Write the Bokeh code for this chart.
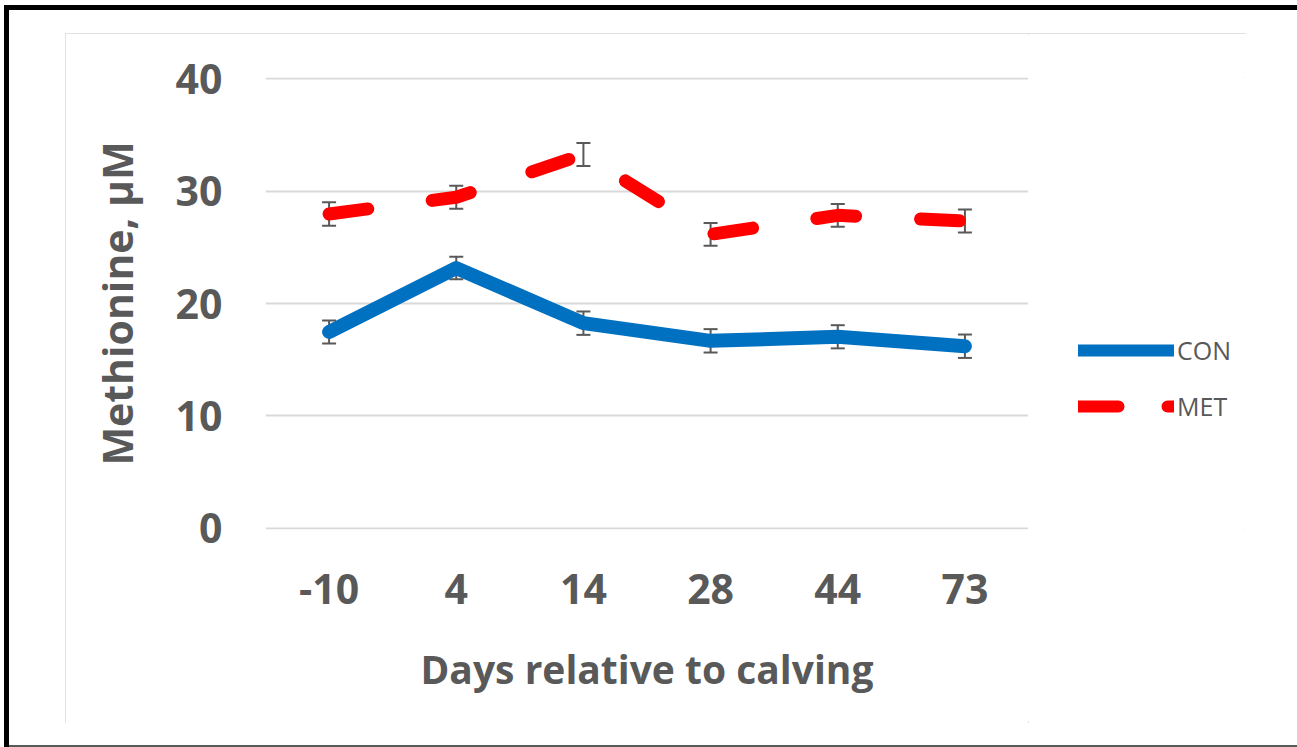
from bokeh.plotting import figure
from bokeh.models import (ColumnDataSource, Whisker, TeeHead, Legend, LegendItem,
                          FactorRange, Range1d, FixedTicker)
from bokeh.layouts import column, row
from bokeh.embed import file_html
from bokeh.resources import INLINE

# ---- data ----
days = ["-10", "4", "14", "28", "44", "73"]
con_mean = [17.47, 23.15, 18.25, 16.68, 17.04, 16.2]
con_sem = [1.02, 1.0, 1.04, 1.04, 1.03, 1.04]
met_mean = [27.96, 29.45, 33.25, 26.15, 27.84, 27.33]
met_sem = [1.05, 1.03, 1.02, 1.02, 1.02, 1.02]
y_ticks = [0, 10, 20, 30, 40]
series_names = ["CON", "MET"]

TEXT = "#595959"
FONT = "Open Sans"
BLUE = "#0070C0"
RED = "#FF0000"

src_con = ColumnDataSource(dict(
    x=days, y=con_mean,
    upper=[m + s for m, s in zip(con_mean, con_sem)],
    lower=[m - s for m, s in zip(con_mean, con_sem)]))
src_met = ColumnDataSource(dict(
    x=days, y=met_mean,
    upper=[m + s for m, s in zip(met_mean, met_sem)],
    lower=[m - s for m, s in zip(met_mean, met_sem)]))

# ---------------- main plot ----------------
p = figure(x_range=FactorRange(factors=days), y_range=Range1d(-0.1, 40.1),
           width=963, height=690, output_backend="svg", toolbar_location=None,
           min_border_left=200, min_border_right=0, min_border_top=44,
           min_border_bottom=194)
p.background_fill_color = "white"
p.border_fill_color = "white"
p.outline_line_color = None

for ax in (p.xaxis, p.yaxis):
    ax.axis_line_color = None
    ax.major_tick_line_color = None
    ax.minor_tick_line_color = None
    ax.major_tick_out = 0
    ax.major_tick_in = 0
    ax.major_label_text_font = FONT
    ax.major_label_text_font_size = "41px"
    ax.major_label_text_font_style = "bold"
    ax.major_label_text_color = TEXT
    ax.axis_label_text_font = FONT
    ax.axis_label_text_font_style = "bold"
    ax.axis_label_text_color = TEXT

p.xaxis.major_label_standoff = 44
p.xaxis.axis_label = "Days relative to calving"
p.xaxis.axis_label_text_font_size = "39px"
p.xaxis.axis_label_standoff = 35

p.yaxis.ticker = FixedTicker(ticks=y_ticks)
p.yaxis.major_label_standoff = 43
p.yaxis.axis_label = "Methionine, µM"
p.yaxis.axis_label_text_font_size = "41px"
p.yaxis.axis_label_standoff = 28

p.xgrid.grid_line_color = None
p.ygrid.grid_line_color = "#D9D9D9"
p.ygrid.grid_line_width = 2

# error bars (under the lines)
for src in (src_con, src_met):
    w = Whisker(source=src, base="x", upper="upper", lower="lower", level="underlay",
                line_color=TEXT, line_width=2,
                upper_head=TeeHead(size=14, line_color=TEXT, line_width=2),
                lower_head=TeeHead(size=14, line_color=TEXT, line_width=2))
    p.add_layout(w)

p.line("x", "y", source=src_con, line_color=BLUE, line_width=14,
       line_cap="round", line_join="round")
p.line("x", "y", source=src_met, line_color=RED, line_width=13,
       line_dash="39 65", line_cap="round", line_join="round")

# ---------------- legend panel ----------------
q = figure(x_range=Range1d(0, 1), y_range=Range1d(0, 1), width=218, height=690,
           output_backend="svg", toolbar_location=None, min_border=0)
q.axis.visible = False
q.grid.visible = False
q.outline_line_color = None
q.background_fill_color = "white"
q.border_fill_color = "white"
# legend keys only (a single point off-range draws nothing in the frame)
k_con = q.line(x=[0.5], y=[-5], line_color=BLUE, line_width=12, line_cap="round")
k_met = q.line(x=[0.5], y=[-5], line_color=RED, line_width=12,
               line_dash="40 49", line_cap="round")

legend = Legend(items=[LegendItem(label=series_names[0], renderers=[k_con]),
                       LegendItem(label=series_names[1], renderers=[k_met])],
                location=(50, 103), orientation="vertical",
                glyph_width=96, glyph_height=40, label_height=40, spacing=16,
                padding=0, margin=0, border_line_color=None, background_fill_alpha=0,
                label_standoff=3, label_text_font=FONT, label_text_font_size="25px",
                label_text_color=TEXT)
q.add_layout(legend)

inner = row(p, q, margin=(33, 51, 24, 65),
            styles={"outline": "2px solid #D9D9D9", "outline-offset": "-2px"})
root = column(inner, styles={"box-shadow": "inset 4px 5px 0 0 #ffffff, inset 9px 10px 0 0 #000000, inset 0 -2px 0 0 #595959"})

open("out.html", "w").write(file_html(root, INLINE))
